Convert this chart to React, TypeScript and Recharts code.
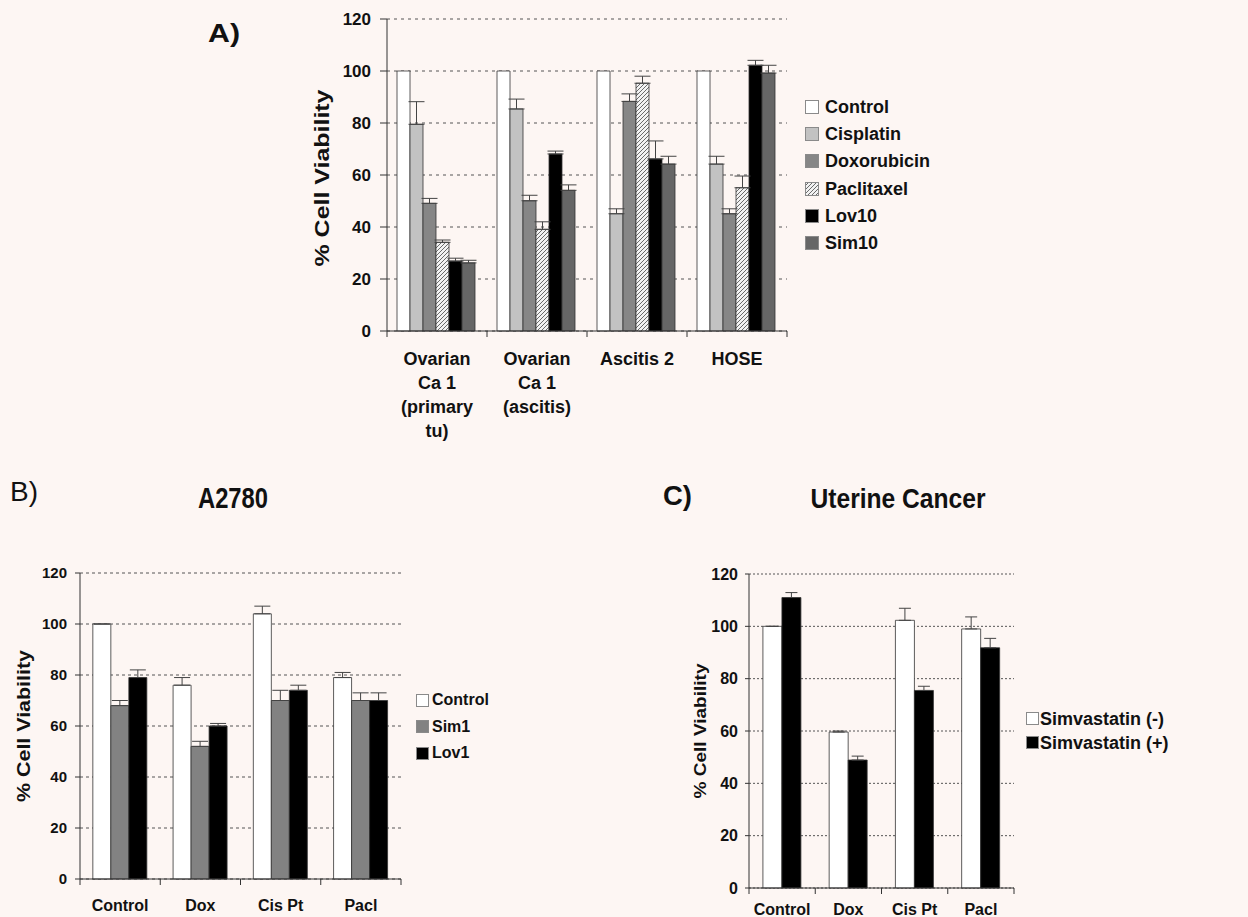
import React from "react";
import { BarChart, Bar, XAxis, YAxis, CartesianGrid, ErrorBar, Legend } from "recharts";

const SANS = '"Liberation Sans", Arial, Helvetica, sans-serif';
const NARROW = '"Liberation Sans Narrow", "Arial Narrow", "Liberation Sans", sans-serif';
const INK = "#111";
const EDGE = "#333";
const PAPER = "#fdf6f3";

// ---- A) cell lines, 10 uM statins vs chemo
const cellLinesA = ["Ovarian\nCa 1\n(primary\ntu)", "Ovarian\nCa 1\n(ascitis)", "Ascitis 2", "HOSE"];
const controlA = [100, 100, 100, 100];
const cisplatinA = [79.5, 85.4, 45.1, 64.2];
const cisplatinErrA = [8.7, 3.8, 1.9, 3];
const doxorubicinA = [49.1, 50.1, 88.3, 45.1];
const doxorubicinErrA = [1.9, 2.1, 2.9, 1.9];
const paclitaxelA = [34.1, 39.1, 95.3, 55.1];
const paclitaxelErrA = [0.9, 2.9, 2.7, 4.5];
const lov10A = [26.9, 68.1, 66.2, 102.2];
const lov10ErrA = [1.1, 1.1, 6.9, 1.9];
const sim10A = [26.2, 54.1, 64.2, 99.2];
const sim10ErrA = [1, 2.1, 3, 3];

// ---- B) A2780
const treatmentsB = ["Control", "Dox", "Cis Pt", "Pacl"];
const controlB = [100, 76, 104, 79];
const controlErrB = [0, 3, 3, 2];
const sim1B = [68, 52, 70, 70];
const sim1ErrB = [2, 2, 4, 3];
const lov1B = [79, 60, 74, 70];
const lov1ErrB = [3, 1, 2, 3];

// ---- C) Uterine cancer
const treatmentsC = ["Control", "Dox", "Cis Pt", "Pacl"];
const simMinusC = [100, 59.6, 102.3, 99];
const simMinusErrC = [0, 0.4, 4.6, 4.6];
const simPlusC = [111, 48.9, 75.5, 91.8];
const simPlusErrC = [1.9, 1.5, 1.6, 3.6];

const yTicks = [0, 20, 40, 60, 80, 100, 120];

// only the upper whisker is drawn in the figure
const up = (e: number) => [0, e];

const dataA = cellLinesA.map((name, i) => ({
  name,
  control: controlA[i],
  cisplatin: cisplatinA[i],
  cisplatinErr: up(cisplatinErrA[i]),
  doxorubicin: doxorubicinA[i],
  doxorubicinErr: up(doxorubicinErrA[i]),
  paclitaxel: paclitaxelA[i],
  paclitaxelErr: up(paclitaxelErrA[i]),
  lov10: lov10A[i],
  lov10Err: up(lov10ErrA[i]),
  sim10: sim10A[i],
  sim10Err: up(sim10ErrA[i]),
}));

const dataB = treatmentsB.map((name, i) => ({
  name,
  control: controlB[i],
  controlErr: up(controlErrB[i]),
  sim1: sim1B[i],
  sim1Err: up(sim1ErrB[i]),
  lov1: lov1B[i],
  lov1Err: up(lov1ErrB[i]),
}));

const dataC = treatmentsC.map((name, i) => ({
  name,
  simMinus: simMinusC[i],
  simMinusErr: up(simMinusErrC[i]),
  simPlus: simPlusC[i],
  simPlusErr: up(simPlusErrC[i]),
}));

type Series = { key: string; name: string; fill: string; err?: string };

const seriesA: Series[] = [
  { key: "control", name: "Control", fill: "#ffffff" },
  { key: "cisplatin", name: "Cisplatin", fill: "#c2c2c2", err: "cisplatinErr" },
  { key: "doxorubicin", name: "Doxorubicin", fill: "#868686", err: "doxorubicinErr" },
  { key: "paclitaxel", name: "Paclitaxel", fill: "url(#hatchA)", err: "paclitaxelErr" },
  { key: "lov10", name: "Lov10", fill: "#000000", err: "lov10Err" },
  { key: "sim10", name: "Sim10", fill: "#666666", err: "sim10Err" },
];

const seriesB: Series[] = [
  { key: "control", name: "Control", fill: "#ffffff", err: "controlErr" },
  { key: "sim1", name: "Sim1", fill: "#828282", err: "sim1Err" },
  { key: "lov1", name: "Lov1", fill: "#000000", err: "lov1Err" },
];

const seriesC: Series[] = [
  { key: "simMinus", name: "Simvastatin (-)", fill: "#ffffff", err: "simMinusErr" },
  { key: "simPlus", name: "Simvastatin (+)", fill: "#000000", err: "simPlusErr" },
];

const hatch = (id: string) => (
  <pattern id={id} patternUnits="userSpaceOnUse" width={4} height={4}>
    <rect width={4} height={4} fill="#f2f2f2" />
    <path d="M-1,1 l2,-2 M0,4 l4,-4 M3,5 l2,-2" stroke="#6a6a6a" strokeWidth={1} />
  </pattern>
);

type TickOpts = { plotW: number; count: number; drop: number; fontSize: number; lineH: number; family: string };

// category label centred in its band + a tick mark at the band boundaries
function CategoryTick(props: any) {
  const { x, y, payload, index, opts } = props;
  const o: TickOpts = opts;
  const half = o.plotW / o.count / 2;
  const axisY = y - o.drop;
  const lines = String(payload.value).split("\n");
  return (
    <g>
      <line x1={x - half} x2={x - half} y1={axisY} y2={axisY + 6} stroke={EDGE} />
      {index === o.count - 1 && <line x1={x + half} x2={x + half} y1={axisY} y2={axisY + 6} stroke={EDGE} />}
      <text x={x} y={y} textAnchor="middle" fill={INK} fontSize={o.fontSize} fontWeight="bold" fontFamily={o.family}>
        {lines.map((l, i) => (
          <tspan key={i} x={x} dy={i === 0 ? "0.71em" : o.lineH}>
            {l}
          </tspan>
        ))}
      </text>
    </g>
  );
}

function AxisTitle(props: any) {
  const { viewBox, off, len, fontSize, family, shift } = props;
  if (!viewBox) return null;
  const cx = viewBox.x + off;
  const cy = viewBox.y + viewBox.height / 2 + (shift || 0);
  return (
    <text
      x={cx}
      y={cy}
      transform={`rotate(-90 ${cx} ${cy})`}
      textAnchor="middle"
      dominantBaseline="central"
      fontSize={fontSize}
      fontWeight="bold"
      fontFamily={family}
      fill={INK}
      textLength={len}
      lengthAdjust="spacingAndGlyphs"
    >
      % Cell Viability
    </text>
  );
}

function SwatchLegend(props: any) {
  const { payload, order, box, gap, rowH, fontSize, family } = props;
  const items = [...(payload || [])].sort((a: any, b: any) => order.indexOf(a.value) - order.indexOf(b.value));
  return (
    <div>
      {items.map((e: any) => {
        const hatched = String(e.color).startsWith("url(");
        return (
          <div key={e.value} style={{ display: "flex", alignItems: "center", height: rowH }}>
            <svg width={box} height={box} style={{ marginRight: gap, flex: "none", display: "block" }}>
              {hatched && <defs>{hatch("hatchKey")}</defs>}
              <rect
                x={0.5}
                y={0.5}
                width={box - 1}
                height={box - 1}
                fill={hatched ? "url(#hatchKey)" : e.color}
                stroke="#8a8a8a"
              />
            </svg>
            <span style={{ fontSize, fontWeight: 700, fontFamily: family, color: INK, whiteSpace: "nowrap", lineHeight: 1 }}>
              {e.value}
            </span>
          </div>
        );
      })}
    </div>
  );
}

function renderBars(series: Series[], capW: number) {
  return series.map((s) => (
    <Bar key={s.key} dataKey={s.key} name={s.name} fill={s.fill} stroke={EDGE} strokeWidth={0.8} isAnimationActive={false}>
      {s.err && (
        <ErrorBar dataKey={s.err} direction="y" width={capW} stroke="#444" strokeWidth={1} isAnimationActive={false} />
      )}
    </Bar>
  ));
}

const tickA: TickOpts = { plotW: 400, count: 4, drop: 21, fontSize: 18, lineH: 24, family: SANS };
const tickB: TickOpts = { plotW: 321, count: 4, drop: 21, fontSize: 16, lineH: 20, family: SANS };
const tickC: TickOpts = { plotW: 265, count: 4, drop: 16, fontSize: 16, lineH: 20, family: NARROW };

export default function App() {
  return (
    <div style={{ position: "absolute", left: 0, top: 0, width: 1248, height: 917, background: PAPER, overflow: "hidden" }}>
      {/* A) */}
      <div style={{ position: "absolute", left: 0, top: 0 }}>
        <BarChart width={1000} height={460} data={dataA} margin={{ top: 19, right: 213, bottom: 19, left: 307 }} barGap={0} barCategoryGap="10%">
          <defs>{hatch("hatchA")}</defs>
          <CartesianGrid vertical={false} stroke="#555" strokeDasharray="3 4" />
          <XAxis
            dataKey="name"
            height={110}
            interval={0}
            tickSize={0}
            tickMargin={tickA.drop}
            axisLine={{ stroke: EDGE }}
            tickLine={false}
            tick={(p: any) => <CategoryTick {...p} opts={tickA} />}
          />
          <YAxis
            width={80}
            domain={[0, 120]}
            ticks={yTicks}
            interval={0}
            tickSize={7}
            tickMargin={9}
            axisLine={{ stroke: EDGE }}
            tickLine={{ stroke: EDGE }}
            tick={{ fontSize: 17, fontWeight: "bold", fill: INK, fontFamily: SANS }}
            label={{ content: (p: any) => <AxisTitle {...p} off={15} len={177} fontSize={20} family={SANS} shift={3} /> }}
          />
          <Legend
            layout="vertical"
            align="center"
            verticalAlign="middle"
            wrapperStyle={{ left: 805, top: 93 }}
            content={(p: any) => (
              <SwatchLegend {...p} order={seriesA.map((s) => s.name)} box={14} gap={6} rowH={27.3} fontSize={18} family={SANS} />
            )}
          />
          {renderBars(seriesA, 8)}
        </BarChart>
      </div>

      {/* B) */}
      <div style={{ position: "absolute", left: 0, top: 460 }}>
        <BarChart width={620} height={457} data={dataB} margin={{ top: 113, right: 219, bottom: 8, left: 10 }} barGap={0} barCategoryGap="16%">
          <CartesianGrid vertical={false} stroke="#555" strokeDasharray="3 3" />
          <XAxis
            dataKey="name"
            height={30}
            interval={0}
            tickSize={0}
            tickMargin={tickB.drop}
            axisLine={{ stroke: EDGE }}
            tickLine={false}
            tick={(p: any) => <CategoryTick {...p} opts={tickB} />}
          />
          <YAxis
            width={70}
            domain={[0, 120]}
            ticks={yTicks}
            interval={0}
            tickSize={5}
            tickMargin={8}
            axisLine={{ stroke: EDGE }}
            tickLine={{ stroke: EDGE }}
            tick={{ fontSize: 15, fontWeight: "bold", fill: INK, fontFamily: SANS }}
            label={{ content: (p: any) => <AxisTitle {...p} off={14} len={152} fontSize={18} family={SANS} /> }}
          />
          <Legend
            layout="vertical"
            align="center"
            verticalAlign="middle"
            wrapperStyle={{ left: 416, top: 227 }}
            content={(p: any) => (
              <SwatchLegend {...p} order={seriesB.map((s) => s.name)} box={13} gap={3} rowH={26.5} fontSize={16} family={SANS} />
            )}
          />
          {renderBars(seriesB, 8)}
        </BarChart>
      </div>

      {/* C) */}
      <div style={{ position: "absolute", left: 620, top: 460 }}>
        <BarChart width={628} height={457} data={dataC} margin={{ top: 114, right: 234, bottom: 4, left: 65 }} barGap={0} barCategoryGap="21%">
          <CartesianGrid vertical={false} stroke="#555" strokeDasharray="2 2" />
          <XAxis
            dataKey="name"
            height={25}
            interval={0}
            tickSize={0}
            tickMargin={tickC.drop}
            axisLine={{ stroke: EDGE }}
            tickLine={false}
            tick={(p: any) => <CategoryTick {...p} opts={tickC} />}
          />
          <YAxis
            width={64}
            domain={[0, 120]}
            ticks={yTicks}
            interval={0}
            tickSize={4}
            tickMargin={7}
            axisLine={{ stroke: EDGE }}
            tickLine={{ stroke: EDGE }}
            tick={{ fontSize: 16, fontWeight: "bold", fill: INK, fontFamily: NARROW }}
            label={{ content: (p: any) => <AxisTitle {...p} off={15} len={135} fontSize={17} family={NARROW} /> }}
          />
          <Legend
            layout="vertical"
            align="center"
            verticalAlign="middle"
            wrapperStyle={{ left: 406, top: 247 }}
            content={(p: any) => (
              <SwatchLegend {...p} order={seriesC.map((s) => s.name)} box={13} gap={1} rowH={23.7} fontSize={18} family={NARROW} />
            )}
          />
          {renderBars(seriesC, 6)}
        </BarChart>
      </div>

      {/* panel letters and titles */}
      <svg width={1248} height={917} style={{ position: "absolute", left: 0, top: 0, pointerEvents: "none" }}>
        <text x={208} y={42} fontSize={26} fontWeight="bold" fontFamily={SANS} fill={INK} textLength={32} lengthAdjust="spacingAndGlyphs">
          A)
        </text>
        <text x={10} y={501} fontSize={27} fontFamily={SANS} fill={INK} textLength={28} lengthAdjust="spacingAndGlyphs">
          B)
        </text>
        <text x={663} y={505} fontSize={27} fontWeight="bold" fontFamily={SANS} fill={INK} textLength={29} lengthAdjust="spacingAndGlyphs">
          C)
        </text>
        <text x={233} y={507.5} textAnchor="middle" fontSize={30} fontWeight="bold" fontFamily={NARROW} fill={INK} textLength={70} lengthAdjust="spacingAndGlyphs">
          A2780
        </text>
        <text x={898} y={508} textAnchor="middle" fontSize={28} fontWeight="bold" fontFamily={NARROW} fill={INK} textLength={175} lengthAdjust="spacingAndGlyphs">
          Uterine Cancer
        </text>
      </svg>
    </div>
  );
}
